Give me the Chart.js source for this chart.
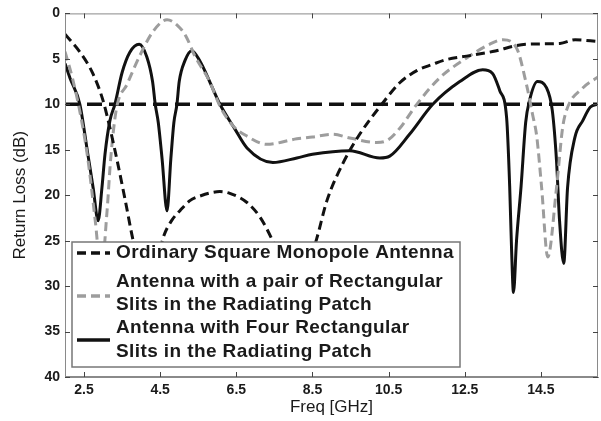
<!DOCTYPE html>
<html>
<head>
<meta charset="utf-8">
<script src="https://cdn.jsdelivr.net/npm/chart.js@4/dist/chart.umd.min.js"></script>
<style>
  html, body { margin: 0; padding: 0; background: #fff; }
  #wrap { width: 601px; height: 421px; }
</style>
</head>
<body>
<div id="wrap"><canvas id="canvas_rl"></canvas></div>
<script>
// frequency axis ticks (GHz)
const xTicks = [2.5, 4.5, 6.5, 8.5, 10.5, 12.5, 14.5];

// ordinary square monopole
const ordFreq = [2.0, 2.4, 2.73, 3.0, 3.18, 3.37, 3.57, 3.78, 4.0, 4.2, 4.4, 4.57, 4.8, 5.02, 5.28, 5.54, 6.07, 6.33, 6.78, 7.12, 7.43, 7.7, 8.1, 8.4, 8.61, 8.88, 9.3, 9.74, 10.32, 10.8, 11.24, 11.66, 12.0, 12.55, 13.23, 14.1, 15.0, 15.4, 16.0];
const ordLoss = [2.3, 4.3, 6.6, 9.6, 12.6, 16.2, 20.3, 24.8, 28.5, 30, 28, 24.8, 22.8, 21.7, 20.6, 20.1, 19.6, 19.8, 20.8, 22.4, 24.8, 27.5, 29, 27.5, 24.8, 20.6, 16.5, 13.3, 10.0, 7.6, 6.3, 5.6, 5.1, 4.7, 4.2, 3.4, 3.3, 2.9, 3.1];

// pair of rectangular slits
const pairFreq = [2.0, 2.2, 2.4, 2.6, 2.8, 2.95, 3.1, 3.2, 3.35, 3.63, 3.97, 4.31, 4.68, 5.02, 5.2, 5.4, 5.8, 6.07, 6.4, 6.78, 7.3, 8.09, 8.5, 9.03, 9.48, 10.18, 10.45, 10.8, 11.24, 11.84, 12.55, 13.15, 13.5, 13.86, 14.12, 14.28, 14.39, 14.52, 14.68, 14.91, 15.07, 15.17, 15.6, 16.0];
const pairLoss = [4.2, 7.2, 11, 16, 23, 28.5, 22, 16, 10.5, 7.8, 4.6, 2.0, 0.7, 1.6, 2.7, 4.6, 7.5, 10.2, 12.3, 13.5, 14.4, 13.8, 13.6, 13.3, 13.7, 14.2, 14.0, 12.6, 10.0, 7.1, 4.9, 3.4, 2.9, 3.8, 7.8, 11.1, 13.5, 19.2, 26.8, 19.2, 12.6, 10.7, 8.2, 7.0];

// four rectangular slits
const fourFreq = [2.0, 2.13, 2.39, 2.6, 2.74, 2.87, 2.97, 3.05, 3.18, 3.31, 3.5, 3.7, 3.95, 4.15, 4.3, 4.37, 4.45, 4.55, 4.68, 4.78, 4.86, 4.94, 5.0, 5.15, 5.33, 5.55, 5.8, 6.07, 6.46, 6.78, 7.46, 8.09, 8.5, 9.48, 10.27, 10.53, 11.05, 11.66, 12.37, 12.97, 13.23, 13.42, 13.6, 13.68, 13.73, 13.78, 13.86, 13.98, 14.1, 14.2, 14.41, 14.65, 14.8, 14.91, 14.99, 15.1, 15.2, 15.39, 15.6, 15.8, 16.0];
const fourLoss = [5.5, 7.1, 10, 15.5, 19.2, 22.8, 19.2, 15.5, 11.8, 10, 6.5, 4.3, 3.4, 4.8, 7.5, 10, 12, 16, 21.7, 16, 12, 10, 7.5, 5.2, 4.1, 5.3, 7.5, 10, 12.7, 14.8, 16.4, 15.9, 15.5, 15.1, 15.9, 15.7, 13.3, 10.0, 7.5, 6.2, 6.6, 8.5, 11.5, 19, 26, 30.7, 25, 19, 12, 9.6, 7.5, 8.2, 10.7, 16.2, 22.8, 27.5, 19.2, 13.7, 11.8, 10.3, 10.0];

// -10 dB reference
const refFreq = [2, 16];
const refLoss = [10, 10];

const legendLines = [
  ['Ordinary Square Monopole Antenna'],
  ['Antenna with a pair of Rectangular', 'Slits in the Radiating Patch'],
  ['Antenna with Four Rectangular', 'Slits in the Radiating Patch']
];

const FONT = '"Liberation Sans", Arial, sans-serif';
const INK = '#1a1a1a';

function pts(xs, ys) {
  return xs.map((x, i) => ({x: x, y: ys[i]}));
}

// inward ticks on all four sides plus the grey frame
const frameTicks = {
  id: 'frameTicks',
  afterDraw(chart) {
    const {ctx, chartArea: a, scales} = chart;
    ctx.save();
    ctx.strokeStyle = '#8a8a8a';
    ctx.lineWidth = 1;
    ctx.strokeRect(a.left + 0.5, a.top + 0.5, a.right - a.left - 1, a.bottom - a.top - 1);
    ctx.strokeStyle = '#444';
    ctx.beginPath();
    xTicks.forEach(v => {
      const px = Math.round(scales.x.getPixelForValue(v)) + 0.5;
      ctx.moveTo(px, a.bottom); ctx.lineTo(px, a.bottom - 5);
      ctx.moveTo(px, a.top); ctx.lineTo(px, a.top + 5);
    });
    scales.y.ticks.forEach(t => {
      const py = Math.round(scales.y.getPixelForValue(t.value)) + 0.5;
      ctx.moveTo(a.left, py); ctx.lineTo(a.left + 5, py);
      ctx.moveTo(a.right, py); ctx.lineTo(a.right - 5, py);
    });
    ctx.stroke();
    ctx.restore();
  }
};

// boxed legend with wrapped labels inside the plot
const boxLegend = {
  id: 'boxLegend',
  afterDatasetsDraw(chart) {
    const {ctx, chartArea: a} = chart;
    const bx = a.left + 7, by = 242, bw = 388, bh = 125;
    ctx.save();
    ctx.fillStyle = '#fff';
    ctx.fillRect(bx, by, bw, bh);
    ctx.strokeStyle = '#777';
    ctx.lineWidth = 1.5;
    ctx.strokeRect(bx, by, bw, bh);
    const rows = [[253], [282, 305], [328, 352]];
    const sampleY = [253, 296, 340];
    ctx.font = 'bold 19px ' + FONT;
    ctx.letterSpacing = '0.4px';
    ctx.textBaseline = 'middle';
    legendLines.forEach((lines, i) => {
      const ds = chart.data.datasets[i];
      ctx.beginPath();
      ctx.strokeStyle = ds.borderColor;
      ctx.lineWidth = 3.5;
      ctx.setLineDash(ds.borderDash || []);
      ctx.moveTo(bx + 5, sampleY[i]);
      ctx.lineTo(bx + 38, sampleY[i]);
      ctx.stroke();
      ctx.setLineDash([]);
      ctx.fillStyle = INK;
      lines.forEach((t, j) => ctx.fillText(t, bx + 44, rows[i][j]));
    });
    ctx.letterSpacing = '0px';
    ctx.restore();
  }
};

const config = {
  type: 'line',
  data: {
    datasets: [
      {
        label: 'Ordinary Square Monopole Antenna',
        data: pts(ordFreq, ordLoss),
        borderColor: '#111',
        borderDash: [9, 5],
        borderWidth: 3
      },
      {
        label: 'Antenna with a pair of Rectangular Slits in the Radiating Patch',
        data: pts(pairFreq, pairLoss),
        borderColor: '#9d9d9d',
        borderDash: [9, 5],
        borderWidth: 3
      },
      {
        label: 'Antenna with Four Rectangular Slits in the Radiating Patch',
        data: pts(fourFreq, fourLoss),
        borderColor: '#111',
        borderWidth: 3
      },
      {
        label: '-10 dB',
        data: pts(refFreq, refLoss),
        borderColor: '#111',
        borderDash: [15, 7],
        borderWidth: 3.5,
        cubicInterpolationMode: 'default',
        tension: 0
      }
    ]
  },
  options: {
    responsive: true,
    maintainAspectRatio: false,
    animation: false,
    events: [],
    layout: { padding: { top: 12, right: 3, left: 0, bottom: 0 } },
    elements: {
      point: { radius: 0 },
      line: { cubicInterpolationMode: 'monotone', fill: false }
    },
    scales: {
      x: {
        type: 'linear',
        min: 2,
        max: 16,
        afterBuildTicks: (scale) => { scale.ticks = xTicks.map(v => ({value: v})); },
        afterFit: (scale) => { scale.height = 44; },
        grid: { display: false, drawTicks: false },
        border: { color: '#8a8a8a', width: 1 },
        ticks: {
          padding: 5,
          color: INK,
          font: { family: FONT, size: 14, weight: 'bold' },
          callback: (v) => v.toFixed(1)
        },
        title: {
          display: true,
          text: 'Freq [GHz]',
          color: INK,
          font: { family: FONT, size: 17 },
          padding: { top: 0, bottom: 3 }
        }
      },
      y: {
        reverse: true,
        min: 0,
        max: 40,
        afterFit: (scale) => { scale.width = 65; },
        grid: { display: false, drawTicks: false },
        border: { color: '#8a8a8a', width: 1 },
        ticks: {
          stepSize: 5,
          padding: 5,
          color: INK,
          font: { family: FONT, size: 14, weight: 'bold' }
        },
        title: {
          display: true,
          text: 'Return Loss (dB)',
          color: INK,
          font: { family: FONT, size: 17 },
          padding: { top: 10, bottom: 0 }
        }
      }
    },
    plugins: {
      legend: { display: false },
      tooltip: { enabled: false }
    }
  },
  plugins: [boxLegend, frameTicks]
};

window.chart = new Chart(document.getElementById('canvas_rl'), config);
</script>
</body>
</html>
